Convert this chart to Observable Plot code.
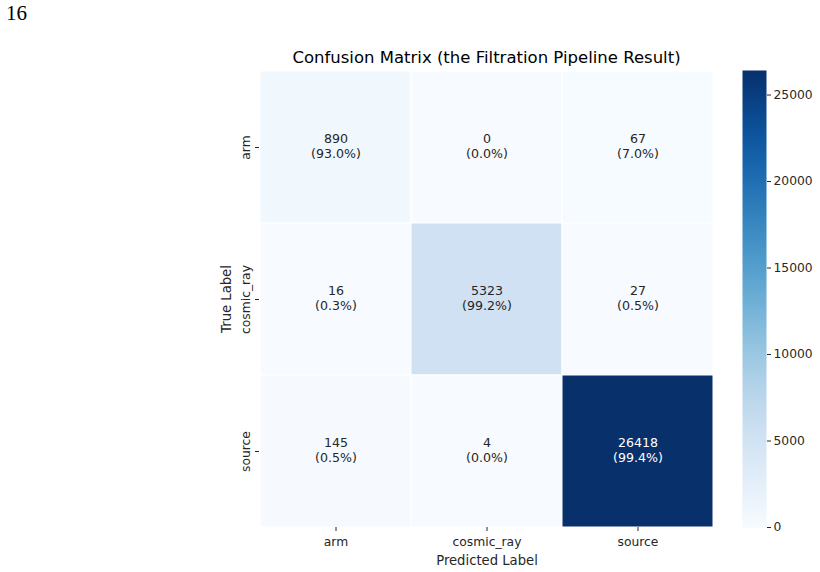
<!DOCTYPE html>
<html><head><meta charset="utf-8">
<script src="https://cdn.jsdelivr.net/npm/d3@7"></script>
<script src="https://cdn.jsdelivr.net/npm/@observablehq/plot@0.6"></script>
<style>
body{margin:0;background:#fff;}
#wrap{position:relative;width:820px;height:572px;overflow:hidden;font-family:"DejaVu Sans",sans-serif;background:#fff;}
#page{position:absolute;left:6px;top:3px;font-family:"Liberation Serif",serif;font-size:21px;line-height:1;color:#000;}
#title{position:absolute;top:50px;left:259px;width:455px;text-align:center;font-size:16.5px;line-height:1;color:#000;}
#main{position:absolute;left:0;top:0;}
#bar{position:absolute;left:742px;top:0;}
</style></head><body>
<div id="wrap"><div id="main"></div><div id="bar"></div><div id="page">16</div><div id="title">Confusion Matrix (the Filtration Pipeline Result)</div></div>
<script>
const trueLabels = ["arm", "cosmic_ray", "source"];
const predLabels = ["arm", "cosmic_ray", "source"];
const counts = [[890, 0, 67], [16, 5323, 27], [145, 4, 26418]];
const percents = [[93.0, 0.0, 7.0], [0.3, 99.2, 0.5], [0.5, 0.0, 99.4]];
const colorTicks = [0, 5000, 10000, 15000, 20000, 25000];
const colorMax = 26418;

const cells = [];
trueLabels.forEach((t, i) => predLabels.forEach((p, j) => cells.push({t, p, v: counts[i][j], pct: percents[i][j]})));
const label = d => `${d.v}\n(${d.pct.toFixed(1)}%)`;
const style = {fontFamily: "DejaVu Sans", fontSize: "12.3px", color: "#262626", background: "transparent"};

const main = Plot.plot({
  width: 820, height: 572, marginLeft: 259, marginRight: 106, marginTop: 70, marginBottom: 45,
  style,
  x: {type: "band", domain: predLabels, padding: 0, label: null},
  y: {type: "band", domain: trueLabels, padding: 0, label: null},
  color: {type: "linear", domain: [0, colorMax], scheme: "blues"},
  marks: [
    Plot.cell(cells, {x: "p", y: "t", fill: "v", stroke: "white", strokeWidth: 1}),
    Plot.text(cells.filter(d => d.v < colorMax * 0.6), {x: "p", y: "t", text: label, fill: "#262626", fontSize: 12.6, lineHeight: 1.19, dy: -2}),
    Plot.text(cells.filter(d => d.v >= colorMax * 0.6), {x: "p", y: "t", text: label, fill: "white", fontSize: 12.6, lineHeight: 1.19, dy: -2}),
    Plot.axisX({tickSize: 4, tickPadding: 6, fontSize: 12.3, label: null}),
    Plot.axisX({tickSize: 0, ticks: [], fontSize: 13.2, label: "Predicted Label", labelAnchor: "center", labelOffset: 37, labelArrow: "none"}),
    Plot.axisY({tickSize: 4, tickPadding: 6, tickRotate: -90, fontSize: 12.3, label: null}),
    Plot.axisY({tickSize: 0, ticks: [], fontSize: 13.2, label: "True Label", labelAnchor: "center", labelOffset: 38, labelArrow: "none"})
  ]
});
document.getElementById("main").appendChild(main);

const bar = Plot.plot({
  width: 78, height: 572, marginLeft: 0, marginRight: 54, marginTop: 70, marginBottom: 45,
  style,
  x: {domain: [0, 1], axis: null},
  y: {domain: [0, colorMax], axis: null},
  color: {type: "linear", domain: [0, colorMax], scheme: "blues"},
  marks: [
    Plot.raster({x1: 0, x2: 1, y1: 0, y2: colorMax, width: 1, height: 457, fill: (x, y) => y}),
    Plot.axisY({anchor: "right", ticks: colorTicks, tickSize: 4, tickPadding: 3, tickFormat: d => String(d), fontSize: 12.3, label: null})
  ]
});
document.getElementById("bar").appendChild(bar);
</script>
</body></html>
